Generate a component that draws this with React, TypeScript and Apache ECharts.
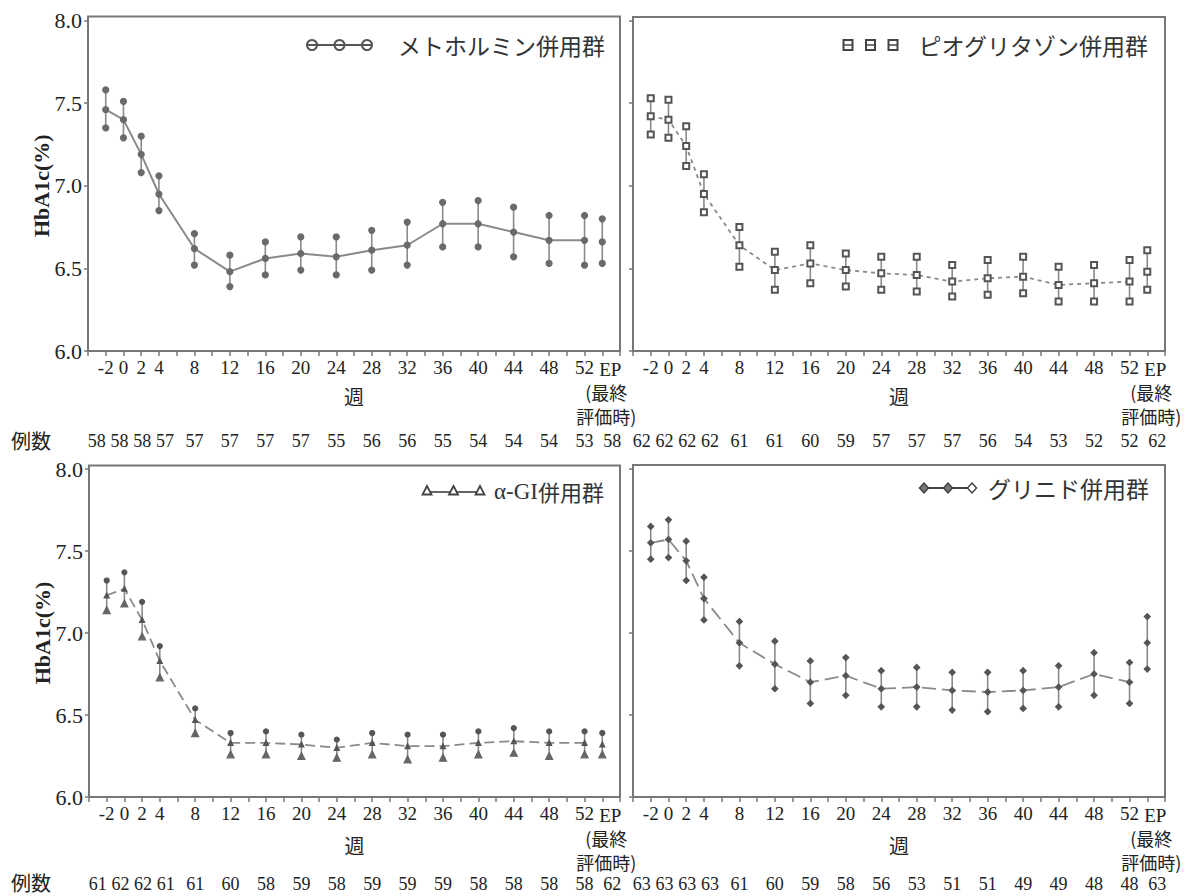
import React, { useEffect, useRef } from 'react';
import * as echarts from 'echarts';

// ---------- data ----------
const weekPos = [-2, 0, 2, 4, 8, 12, 16, 20, 24, 28, 32, 36, 40, 44, 48, 52, 54];
const weekLabels = ['-2', '0', '2', '4', '8', '12', '16', '20', '24', '28', '32', '36', '40', '44', '48', '52', 'EP'];
const yTicks = [6.0, 6.5, 7.0, 7.5, 8.0];

const metMean = [7.46, 7.40, 7.19, 6.95, 6.62, 6.48, 6.56, 6.59, 6.57, 6.61, 6.64, 6.77, 6.77, 6.72, 6.67, 6.67, 6.66];
const metUpper = [7.58, 7.51, 7.30, 7.06, 6.71, 6.58, 6.66, 6.69, 6.69, 6.73, 6.78, 6.90, 6.91, 6.87, 6.82, 6.82, 6.80];
const metLower = [7.35, 7.29, 7.08, 6.85, 6.52, 6.39, 6.46, 6.49, 6.46, 6.49, 6.52, 6.63, 6.63, 6.57, 6.53, 6.52, 6.53];
const metN = [58, 58, 58, 57, 57, 57, 57, 57, 55, 56, 56, 55, 54, 54, 54, 53, 58];

const pioMean = [7.42, 7.40, 7.24, 6.95, 6.64, 6.49, 6.53, 6.49, 6.47, 6.46, 6.42, 6.44, 6.45, 6.40, 6.41, 6.42, 6.48];
const pioUpper = [7.53, 7.52, 7.36, 7.07, 6.75, 6.60, 6.64, 6.59, 6.57, 6.57, 6.52, 6.55, 6.57, 6.51, 6.52, 6.55, 6.61];
const pioLower = [7.31, 7.29, 7.12, 6.84, 6.51, 6.37, 6.41, 6.39, 6.37, 6.36, 6.33, 6.34, 6.35, 6.30, 6.30, 6.30, 6.37];
const pioN = [62, 62, 62, 62, 61, 61, 60, 59, 57, 57, 57, 56, 54, 53, 52, 52, 62];

const agiMean = [7.23, 7.27, 7.08, 6.83, 6.47, 6.33, 6.33, 6.32, 6.30, 6.33, 6.31, 6.31, 6.33, 6.34, 6.33, 6.33, 6.32];
const agiUpper = [7.32, 7.37, 7.19, 6.92, 6.54, 6.39, 6.40, 6.38, 6.35, 6.39, 6.38, 6.38, 6.40, 6.42, 6.40, 6.40, 6.39];
const agiLower = [7.14, 7.18, 6.98, 6.73, 6.39, 6.26, 6.26, 6.25, 6.24, 6.26, 6.23, 6.24, 6.26, 6.27, 6.25, 6.26, 6.26];
const agiN = [61, 62, 62, 61, 61, 60, 58, 59, 58, 59, 59, 59, 58, 58, 58, 58, 62];

const glnMean = [7.55, 7.57, 7.44, 7.21, 6.94, 6.81, 6.70, 6.74, 6.66, 6.67, 6.65, 6.64, 6.65, 6.67, 6.75, 6.70, 6.94];
const glnUpper = [7.65, 7.69, 7.56, 7.34, 7.07, 6.95, 6.83, 6.85, 6.77, 6.79, 6.76, 6.76, 6.77, 6.80, 6.88, 6.82, 7.10];
const glnLower = [7.45, 7.46, 7.32, 7.08, 6.80, 6.66, 6.57, 6.62, 6.55, 6.55, 6.53, 6.52, 6.54, 6.55, 6.62, 6.57, 6.78];
const glnN = [63, 63, 63, 63, 61, 60, 59, 58, 56, 53, 51, 51, 49, 49, 48, 48, 63];

const groupNames = ['メトホルミン併用群', 'ピオグリタゾン併用群', 'α-GI併用群', 'グリニド併用群'];
const xTitle = '週';
const yTitle = 'HbA1c(%)';
const countTitle = '例数';
const epSub = ['(最終', '評価時)'];

// ---------- layout ----------
const GRIDS = [
  { left: 88, top: 20.5, width: 532, height: 330.5 },
  { left: 633, top: 20.5, width: 532, height: 330.5 },
  { left: 89, top: 469, width: 531, height: 328 },
  { left: 633, top: 469, width: 532, height: 328 },
];
const FRAMES = [
  { x: 88, y: 16.5, w: 532, h: 334.5 },
  { x: 633, y: 17, w: 532, h: 334 },
  { x: 89, y: 465.5, w: 531, h: 331.5 },
  { x: 633, y: 465, w: 532, h: 332 },
];
const COUNT_OFFSET = [73, 73, 70, 70];
const NAME_GAP = [35.5, 35.5, 38, 38];
// horizontal nudges (px) of count labels so the crowded ones stay readable
const COUNT_SHIFT: Record<string, number> = { '-2': -9, '0': -4, '2': 1, '4': 6, '54': 10 };

const SERIF = '"Liberation Serif", "Times New Roman", serif';
const CJK = '"Noto Sans CJK JP", sans-serif';
const TEXT = '#222';
const AXIS = '#777';

const panels = [
  {
    mean: metMean, upper: metUpper, lower: metLower, n: metN,
    line: { type: 'solid' as any, width: 2 },
    meanSym: { symbol: 'circle', size: 6, color: '#6a6a6a' },
    upSym: { symbol: 'circle', size: 6, color: '#6a6a6a' },
    loSym: { symbol: 'circle', size: 6, color: '#6a6a6a' },
  },
  {
    mean: pioMean, upper: pioUpper, lower: pioLower, n: pioN,
    line: { type: [4, 4] as any, width: 1.8 },
    meanSym: { symbol: 'emptyRect', size: 6, color: '#555' },
    upSym: { symbol: 'emptyRect', size: 6, color: '#555' },
    loSym: { symbol: 'emptyRect', size: 6, color: '#555' },
  },
  {
    mean: agiMean, upper: agiUpper, lower: agiLower, n: agiN,
    line: { type: [10, 5] as any, width: 1.8 },
    meanSym: { symbol: 'triangle', size: 5, color: '#555' },
    upSym: { symbol: 'circle', size: 5, color: '#555' },
    loSym: { symbol: 'triangle', size: 7, color: '#666' },
  },
  {
    mean: glnMean, upper: glnUpper, lower: glnLower, n: glnN,
    line: { type: [14, 6] as any, width: 1.8 },
    meanSym: { symbol: 'diamond', size: 6, color: '#555' },
    upSym: { symbol: 'diamond', size: 6, color: '#555' },
    loSym: { symbol: 'diamond', size: 6, color: '#555' },
  },
];

function weekLabelFmt(v: number) {
  const i = weekPos.indexOf(v);
  if (i < 0) return '';
  if (weekLabels[i] === 'EP') return `{ep|EP}\n{jp|${epSub[0]}}\n{jp|${epSub[1]}}`;
  return weekLabels[i];
}

const countRich: any = {};
Object.keys(COUNT_SHIFT).forEach((k, idx) => {
  const s = COUNT_SHIFT[k];
  countRich['c' + idx] = {
    fontFamily: SERIF, fontSize: 18, color: TEXT,
    padding: s >= 0 ? [0, 0, 0, 2 * s] : [0, -2 * s, 0, 0],
  };
});

function buildOption() {
  const grid: any[] = [];
  const xAxis: any[] = [];
  const yAxis: any[] = [];
  const series: any[] = [];
  const graphic: any[] = [];

  panels.forEach((p, g) => {
    const isLeft = g % 2 === 0;
    grid.push({ ...GRIDS[g], show: false });

    xAxis.push({
      gridIndex: g, type: 'value', min: -4, max: 56, interval: 2, position: 'bottom',
      axisLine: { show: false, onZero: false },
      axisTick: { show: true, inside: false, length: 5, lineStyle: { color: AXIS, width: 1.5 } },
      splitLine: { show: false },
      axisLabel: {
        margin: 7, fontFamily: SERIF, fontSize: 19, color: TEXT,
        formatter: weekLabelFmt,
        rich: {
          ep: { fontFamily: SERIF, fontSize: 19, color: TEXT, lineHeight: 22, padding: [0, 0, 0, 16] },
          jp: { fontFamily: CJK, fontSize: 18, color: TEXT, lineHeight: 24, padding: [0, 0, 0, 8] },
        },
      },
      name: xTitle, nameLocation: 'middle', nameGap: NAME_GAP[g], nameMoveOverlap: false,
      nameTextStyle: { fontFamily: CJK, fontSize: 20, color: TEXT },
    });
    xAxis.push({
      gridIndex: g, type: 'value', min: -4, max: 56, interval: 2, position: 'bottom',
      offset: COUNT_OFFSET[g],
      axisLine: { show: false, onZero: false }, axisTick: { show: false }, splitLine: { show: false },
      axisLabel: {
        margin: 8, fontFamily: SERIF, fontSize: 18, color: TEXT,
        formatter: (v: number) => {
          const i = weekPos.indexOf(v);
          if (i < 0) return '';
          const key = Object.keys(COUNT_SHIFT).indexOf(String(v));
          return key >= 0 ? `{c${key}|${p.n[i]}}` : String(p.n[i]);
        },
        rich: countRich,
      },
    });
    yAxis.push({
      gridIndex: g, type: 'value', min: yTicks[0], max: yTicks[yTicks.length - 1], interval: 0.5,
      axisLine: { show: false, onZero: false },
      axisTick: { show: true, inside: false, length: 4, lineStyle: { color: AXIS, width: 1.5 } },
      splitLine: { show: false },
      axisLabel: {
        show: isLeft, margin: 6, fontFamily: SERIF, fontSize: 22, color: TEXT,
        formatter: (v: number) => v.toFixed(1),
      },
      name: isLeft ? yTitle : '', nameLocation: 'middle', nameGap: 36, nameMoveOverlap: false,
      nameTextStyle: { fontFamily: SERIF, fontWeight: 'bold', fontSize: 22, color: TEXT },
    });

    const xi = 2 * g;
    series.push({
      type: 'custom', xAxisIndex: xi, yAxisIndex: g, z: 1,
      data: weekPos.map((w, i) => [w, p.lower[i], p.upper[i]]),
      encode: { x: 0, y: [1, 2] },
      renderItem: (_params: any, api: any) => {
        const a = api.coord([api.value(0), api.value(1)]);
        const b = api.coord([api.value(0), api.value(2)]);
        return {
          type: 'line',
          shape: { x1: a[0], y1: a[1], x2: b[0], y2: b[1] },
          style: { stroke: '#8a8a8a', lineWidth: 1.6 },
        };
      },
    });
    series.push({
      type: 'line', xAxisIndex: xi, yAxisIndex: g, z: 2,
      data: weekPos.slice(0, 16).map((w, i) => [w, p.mean[i]]),
      showSymbol: false, symbol: 'none',
      lineStyle: { color: '#8a8a8a', width: p.line.width, type: p.line.type },
    });
    const sc = (vals: number[], s: any) => ({
      type: 'scatter', xAxisIndex: xi, yAxisIndex: g, z: 3,
      data: weekPos.map((w, i) => [w, vals[i]]),
      symbol: s.symbol, symbolSize: s.size,
      itemStyle: { color: s.color, borderColor: s.color, borderWidth: 1.2, opacity: 1 },
    });
    series.push(sc(p.mean, p.meanSym));
    series.push(sc(p.upper, p.upSym));
    series.push(sc(p.lower, p.loSym));

    const f = FRAMES[g];
    graphic.push({
      type: 'rect', shape: { x: f.x, y: f.y, width: f.w, height: f.h },
      style: { fill: 'none', stroke: AXIS, lineWidth: 2 }, z: 10,
    });
  });

  // legends (decorative keys)
  const legText = (text: string, x: number, y: number, rich?: any) => ({
    type: 'text', x, y, z: 20,
    style: {
      text, fill: '#333', fontFamily: CJK, fontSize: 23,
      align: 'right', textAlign: 'right', verticalAlign: 'middle', textVerticalAlign: 'middle',
      rich,
    },
  });
  // TL: circles
  [312, 339.5, 367].forEach((cx) =>
    graphic.push({ type: 'circle', shape: { cx, cy: 45, r: 5 }, style: { fill: '#fff', stroke: '#555', lineWidth: 2 }, z: 21 }),
  );
  graphic.push({ type: 'line', shape: { x1: 307, y1: 45, x2: 372, y2: 45 }, style: { stroke: '#555', lineWidth: 1.8 }, z: 22 });
  graphic.push(legText(groupNames[0], 605, 45));
  // TR: squares
  [848, 870.5, 893].forEach((cx) => {
    graphic.push({ type: 'rect', shape: { x: cx - 4.5, y: 40, width: 9, height: 10 }, style: { fill: '#fff', stroke: '#444', lineWidth: 2 }, z: 21 });
    graphic.push({ type: 'line', shape: { x1: cx - 4.5, y1: 45, x2: cx + 4.5, y2: 45 }, style: { stroke: '#444', lineWidth: 1.5 }, z: 22 });
  });
  graphic.push(legText(groupNames[1], 1148, 45));
  // BL: triangles
  graphic.push({ type: 'line', shape: { x1: 425, y1: 492, x2: 482, y2: 492 }, style: { stroke: '#666', lineWidth: 1.8 }, z: 20 });
  [427, 453.5, 480].forEach((cx) =>
    graphic.push({ type: 'polygon', shape: { points: [[cx, 486], [cx - 4.5, 494.5], [cx + 4.5, 494.5]] }, style: { fill: '#fff', stroke: '#444', lineWidth: 1.8 }, z: 21 }),
  );
  graphic.push(legText('{s|α-GI}{j|' + groupNames[2].replace('α-GI', '') + '}', 604, 491, {
    s: { fontFamily: SERIF, fontSize: 23, fill: '#333', color: '#333' },
    j: { fontFamily: CJK, fontSize: 22, fill: '#333', color: '#333' },
  }));
  // BR: diamonds
  graphic.push({ type: 'line', shape: { x1: 920, y1: 488, x2: 968, y2: 488 }, style: { stroke: '#444', lineWidth: 2 }, z: 20 });
  [924, 948, 972].forEach((cx, k) =>
    graphic.push({
      type: 'polygon', shape: { points: [[cx, 483], [cx + 4.5, 488], [cx, 493], [cx - 4.5, 488]] },
      style: { fill: k < 2 ? '#777' : '#fff', stroke: '#444', lineWidth: 1.5 }, z: 21,
    }),
  );
  graphic.push(legText(groupNames[3], 1149, 488));

  // 例数 row titles
  [440, 882].forEach((y) =>
    graphic.push({
      type: 'text', x: 11, y, z: 20,
      style: { text: countTitle, fill: TEXT, fontFamily: CJK, fontSize: 20, align: 'left', textAlign: 'left', verticalAlign: 'middle', textVerticalAlign: 'middle' },
    }),
  );

  return {
    animation: false,
    backgroundColor: '#fff',
    grid, xAxis, yAxis, series, graphic,
  };
}

export default function App() {
  const ref = useRef<HTMLDivElement>(null);
  useEffect(() => {
    if (!ref.current) return;
    const chart = echarts.init(ref.current, undefined, { renderer: 'svg' });
    chart.setOption(buildOption() as any);
    return () => chart.dispose();
  }, []);
  return (
    <div
      ref={ref}
      style={{ position: 'absolute', left: 0, top: 0, width: 1187, height: 896, background: '#fff' }}
    />
  );
}
